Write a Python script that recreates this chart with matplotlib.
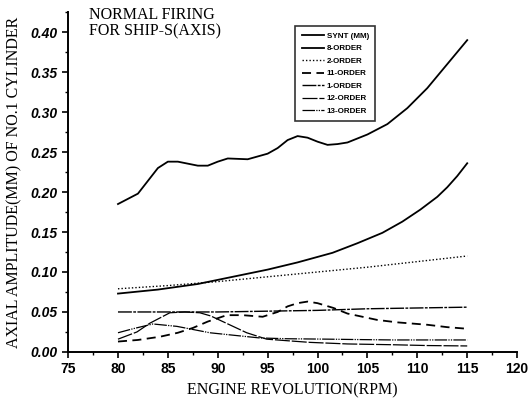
import numpy as np
import matplotlib
matplotlib.use('Agg')
import matplotlib.pyplot as plt
from matplotlib.ticker import MultipleLocator

# 读图估计的数据 (RPM -> 振幅 mm)
synt_x = [80, 82, 84, 85, 86, 88, 89, 90, 91, 93, 95, 96, 97, 98, 99, 100, 101, 102, 103, 105, 107, 109, 111, 113, 115]
synt_y = [0.185, 0.198, 0.230, 0.238, 0.238, 0.233, 0.233, 0.238, 0.242, 0.241, 0.248, 0.255, 0.265, 0.270, 0.268,
          0.263, 0.259, 0.260, 0.262, 0.272, 0.285, 0.305, 0.330, 0.360, 0.390]

ord8_x = [80, 84, 88, 91.5, 95, 98, 101.5, 104, 106.5, 108.5, 110.3, 112, 113, 114, 115]
ord8_y = [0.073, 0.078, 0.085, 0.094, 0.103, 0.112, 0.124, 0.136, 0.149, 0.163, 0.178, 0.194, 0.206, 0.220, 0.236]

ord2_x = [80, 85, 90, 95, 100, 105, 110, 115]
ord2_y = [0.079, 0.083, 0.088, 0.094, 0.100, 0.106, 0.113, 0.120]

ord11_x = [80, 82, 84.2, 86, 87.5, 89, 90.9, 92.5, 94.5, 96, 97, 98, 99, 100, 101.6, 103, 106, 108, 111, 113, 115]
ord11_y = [0.013, 0.015, 0.019, 0.024, 0.030, 0.038, 0.046, 0.046, 0.044, 0.050, 0.057, 0.061, 0.063, 0.061, 0.055,
           0.048, 0.040, 0.037, 0.034, 0.031, 0.029]

ord1_x = [80, 85, 90, 95, 100, 105, 110, 115]
ord1_y = [0.050, 0.050, 0.050, 0.051, 0.052, 0.054, 0.055, 0.056]

ord12_x = [80, 81.9, 83.2, 85.2, 86.7, 88.2, 89.3, 90.5, 91.7, 92.9, 94.9, 97, 99.2, 103, 107.6, 111, 115]
ord12_y = [0.016, 0.025, 0.036, 0.049, 0.050, 0.049, 0.045, 0.038, 0.031, 0.024, 0.016, 0.014, 0.012, 0.010, 0.009, 0.008, 0.0075]

ord13_x = [80, 81.5, 83.5, 85.9, 89.2, 91.5, 94.2, 97, 101, 104, 107.6, 111, 115]
ord13_y = [0.024, 0.029, 0.035, 0.032, 0.024, 0.021, 0.0175, 0.0165, 0.016, 0.0155, 0.015, 0.015, 0.015]

labels = ['SYNT (MM)', '8-ORDER', '2-ORDER', '11-ORDER', '1-ORDER', '12-ORDER', '13-ORDER']

fig = plt.figure(figsize=(5.32, 4.05), dpi=100)
ax = fig.add_axes([0.128, 0.131, 0.844, 0.839])

ax.plot(synt_x, synt_y, color='k', lw=1.3, label=labels[0])
ax.plot(ord8_x, ord8_y, color='k', lw=1.3, label=labels[1])
ax.plot(ord2_x, ord2_y, color='k', lw=1.0, linestyle=(0, (1, 1.5)), label=labels[2])
ax.plot(ord11_x, ord11_y, color='k', lw=1.3, linestyle=(0, (5, 3)), label=labels[3])
ax.plot(ord1_x, ord1_y, color='k', lw=1.0, linestyle=(0, (10, 1, 2, 1)), label=labels[4])
ax.plot(ord12_x, ord12_y, color='k', lw=0.9, linestyle=(0, (12, 1.5)), label=labels[5])
ax.plot(ord13_x, ord13_y, color='k', lw=0.9, linestyle=(0, (10, 1, 1, 1, 1, 1)), label=labels[6])

ax.set_xlim(75, 120)
ax.set_ylim(0, 0.425)
ax.xaxis.set_major_locator(MultipleLocator(5))
ax.xaxis.set_minor_locator(MultipleLocator(2.5))
ax.yaxis.set_major_locator(MultipleLocator(0.05))
ax.yaxis.set_minor_locator(MultipleLocator(0.025))
ax.set_yticks(np.arange(0, 0.401, 0.05))
ax.yaxis.set_major_formatter(plt.FuncFormatter(lambda v, p: '%.2f' % v))

for s in ['top', 'right']:
    ax.spines[s].set_visible(False)
for s in ['left', 'bottom']:
    ax.spines[s].set_linewidth(1.4)
ax.tick_params(which='major', direction='out', length=4, width=1.2)
ax.tick_params(which='minor', direction='out', length=2.5, width=1.0)

for t in ax.get_xticklabels():
    t.set_fontfamily('Liberation Sans')
    t.set_fontweight('bold')
    t.set_fontsize(10)
for t in ax.get_yticklabels():
    t.set_fontfamily('Liberation Sans')
    t.set_fontweight('bold')
    t.set_fontstyle('italic')
    t.set_fontsize(10)

ax.set_xlabel('ENGINE REVOLUTION(RPM)', family='Liberation Serif', fontsize=11.5, labelpad=4)
ax.set_ylabel('AXIAL AMPLITUDE(MM) OF NO.1 CYLINDER', family='Liberation Serif', fontsize=11.5, labelpad=6)

fig.text(0.168, 0.982, 'NORMAL FIRING\nFOR SHIP-S(AXIS)', family='Liberation Serif', fontsize=11.5,
         va='top', ha='left', linespacing=1.0)

leg = ax.legend(loc='upper left', bbox_to_anchor=(0.555, 0.936), bbox_transform=fig.transFigure,
                prop={'family': 'Liberation Sans', 'weight': 'bold', 'size': 5.8},
                frameon=True, fancybox=False, handlelength=2.8, handletextpad=0.3,
                labelspacing=0.6, borderpad=0.8, borderaxespad=0)
leg.get_frame().set_edgecolor('k')
leg.get_frame().set_linewidth(1.2)

plt.savefig('out.png', dpi=100)
